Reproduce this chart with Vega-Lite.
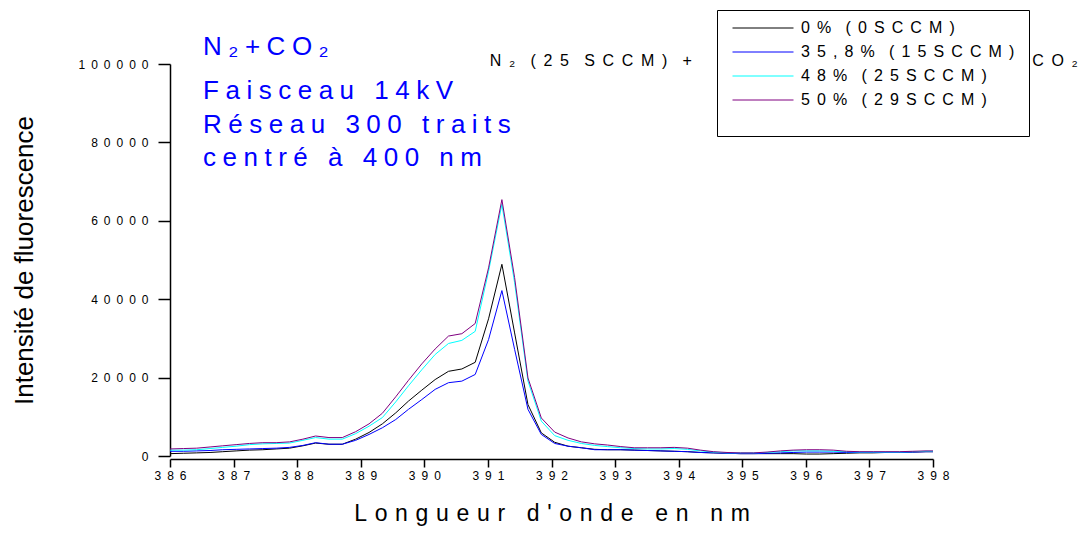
{
  "$schema": "https://vega.github.io/schema/vega-lite/v6.json",
  "autosize": {"type": "none"},
  "padding": {"left": 170, "top": 64, "right": 158, "bottom": 78},
  "width": 763,
  "height": 392,
  "background": "white",
  "config": {"view": {"stroke": null}, "font": "Liberation Sans"},
  "datasets": {
    "spectre": [
      {"nm":386.00,"s":"0% (0SCCM)","v":600},{"nm":386.21,"s":"0% (0SCCM)","v":700},{"nm":386.42,"s":"0% (0SCCM)","v":800},{"nm":386.63,"s":"0% (0SCCM)","v":900},{"nm":386.83,"s":"0% (0SCCM)","v":1100},{"nm":387.04,"s":"0% (0SCCM)","v":1300},{"nm":387.25,"s":"0% (0SCCM)","v":1500},{"nm":387.46,"s":"0% (0SCCM)","v":1600},{"nm":387.67,"s":"0% (0SCCM)","v":1800},{"nm":387.88,"s":"0% (0SCCM)","v":2000},{"nm":388.09,"s":"0% (0SCCM)","v":2600},{"nm":388.29,"s":"0% (0SCCM)","v":3300},{"nm":388.50,"s":"0% (0SCCM)","v":3000},{"nm":388.71,"s":"0% (0SCCM)","v":3000},{"nm":388.92,"s":"0% (0SCCM)","v":4300},{"nm":389.13,"s":"0% (0SCCM)","v":6000},{"nm":389.34,"s":"0% (0SCCM)","v":8200},{"nm":389.55,"s":"0% (0SCCM)","v":11000},{"nm":389.75,"s":"0% (0SCCM)","v":14000},{"nm":389.96,"s":"0% (0SCCM)","v":16800},{"nm":390.17,"s":"0% (0SCCM)","v":19500},{"nm":390.38,"s":"0% (0SCCM)","v":21600},{"nm":390.59,"s":"0% (0SCCM)","v":22200},{"nm":390.80,"s":"0% (0SCCM)","v":23900},{"nm":391.01,"s":"0% (0SCCM)","v":35000},{"nm":391.22,"s":"0% (0SCCM)","v":48900},{"nm":391.42,"s":"0% (0SCCM)","v":31400},{"nm":391.63,"s":"0% (0SCCM)","v":13100},{"nm":391.84,"s":"0% (0SCCM)","v":5900},{"nm":392.05,"s":"0% (0SCCM)","v":3500},{"nm":392.26,"s":"0% (0SCCM)","v":2500},{"nm":392.47,"s":"0% (0SCCM)","v":2100},{"nm":392.68,"s":"0% (0SCCM)","v":1700},{"nm":392.88,"s":"0% (0SCCM)","v":1600},{"nm":393.09,"s":"0% (0SCCM)","v":1600},{"nm":393.30,"s":"0% (0SCCM)","v":1500},{"nm":393.51,"s":"0% (0SCCM)","v":1400},{"nm":393.72,"s":"0% (0SCCM)","v":1300},{"nm":393.93,"s":"0% (0SCCM)","v":1200},{"nm":394.14,"s":"0% (0SCCM)","v":1100},{"nm":394.34,"s":"0% (0SCCM)","v":900},{"nm":394.55,"s":"0% (0SCCM)","v":800},{"nm":394.76,"s":"0% (0SCCM)","v":700},{"nm":394.97,"s":"0% (0SCCM)","v":600},{"nm":395.18,"s":"0% (0SCCM)","v":600},{"nm":395.39,"s":"0% (0SCCM)","v":600},{"nm":395.60,"s":"0% (0SCCM)","v":600},{"nm":395.80,"s":"0% (0SCCM)","v":600},{"nm":396.01,"s":"0% (0SCCM)","v":500},{"nm":396.22,"s":"0% (0SCCM)","v":500},{"nm":396.43,"s":"0% (0SCCM)","v":600},{"nm":396.64,"s":"0% (0SCCM)","v":700},{"nm":396.85,"s":"0% (0SCCM)","v":800},{"nm":397.06,"s":"0% (0SCCM)","v":800},{"nm":397.26,"s":"0% (0SCCM)","v":900},{"nm":397.47,"s":"0% (0SCCM)","v":900},{"nm":397.68,"s":"0% (0SCCM)","v":1000},{"nm":397.89,"s":"0% (0SCCM)","v":1100},{"nm":398.00,"s":"0% (0SCCM)","v":1100},
      {"nm":386.00,"s":"35,8% (15SCCM)","v":1200},{"nm":386.21,"s":"35,8% (15SCCM)","v":1200},{"nm":386.42,"s":"35,8% (15SCCM)","v":1300},{"nm":386.63,"s":"35,8% (15SCCM)","v":1400},{"nm":386.83,"s":"35,8% (15SCCM)","v":1600},{"nm":387.04,"s":"35,8% (15SCCM)","v":1700},{"nm":387.25,"s":"35,8% (15SCCM)","v":1800},{"nm":387.46,"s":"35,8% (15SCCM)","v":1900},{"nm":387.67,"s":"35,8% (15SCCM)","v":2000},{"nm":387.88,"s":"35,8% (15SCCM)","v":2200},{"nm":388.09,"s":"35,8% (15SCCM)","v":2700},{"nm":388.29,"s":"35,8% (15SCCM)","v":3400},{"nm":388.50,"s":"35,8% (15SCCM)","v":3000},{"nm":388.71,"s":"35,8% (15SCCM)","v":3000},{"nm":388.92,"s":"35,8% (15SCCM)","v":4000},{"nm":389.13,"s":"35,8% (15SCCM)","v":5500},{"nm":389.34,"s":"35,8% (15SCCM)","v":7200},{"nm":389.55,"s":"35,8% (15SCCM)","v":9300},{"nm":389.75,"s":"35,8% (15SCCM)","v":11900},{"nm":389.96,"s":"35,8% (15SCCM)","v":14400},{"nm":390.17,"s":"35,8% (15SCCM)","v":17000},{"nm":390.38,"s":"35,8% (15SCCM)","v":18700},{"nm":390.59,"s":"35,8% (15SCCM)","v":19100},{"nm":390.80,"s":"35,8% (15SCCM)","v":20800},{"nm":391.01,"s":"35,8% (15SCCM)","v":29700},{"nm":391.22,"s":"35,8% (15SCCM)","v":42200},{"nm":391.42,"s":"35,8% (15SCCM)","v":27200},{"nm":391.63,"s":"35,8% (15SCCM)","v":11900},{"nm":391.84,"s":"35,8% (15SCCM)","v":5500},{"nm":392.05,"s":"35,8% (15SCCM)","v":3200},{"nm":392.26,"s":"35,8% (15SCCM)","v":2500},{"nm":392.47,"s":"35,8% (15SCCM)","v":2100},{"nm":392.68,"s":"35,8% (15SCCM)","v":1600},{"nm":392.88,"s":"35,8% (15SCCM)","v":1600},{"nm":393.09,"s":"35,8% (15SCCM)","v":1600},{"nm":393.30,"s":"35,8% (15SCCM)","v":1500},{"nm":393.51,"s":"35,8% (15SCCM)","v":1400},{"nm":393.72,"s":"35,8% (15SCCM)","v":1300},{"nm":393.93,"s":"35,8% (15SCCM)","v":1200},{"nm":394.14,"s":"35,8% (15SCCM)","v":1100},{"nm":394.34,"s":"35,8% (15SCCM)","v":900},{"nm":394.55,"s":"35,8% (15SCCM)","v":800},{"nm":394.76,"s":"35,8% (15SCCM)","v":700},{"nm":394.97,"s":"35,8% (15SCCM)","v":600},{"nm":395.18,"s":"35,8% (15SCCM)","v":600},{"nm":395.39,"s":"35,8% (15SCCM)","v":700},{"nm":395.60,"s":"35,8% (15SCCM)","v":800},{"nm":395.80,"s":"35,8% (15SCCM)","v":900},{"nm":396.01,"s":"35,8% (15SCCM)","v":1000},{"nm":396.22,"s":"35,8% (15SCCM)","v":1000},{"nm":396.43,"s":"35,8% (15SCCM)","v":1000},{"nm":396.64,"s":"35,8% (15SCCM)","v":900},{"nm":396.85,"s":"35,8% (15SCCM)","v":900},{"nm":397.06,"s":"35,8% (15SCCM)","v":900},{"nm":397.26,"s":"35,8% (15SCCM)","v":900},{"nm":397.47,"s":"35,8% (15SCCM)","v":900},{"nm":397.68,"s":"35,8% (15SCCM)","v":1000},{"nm":397.89,"s":"35,8% (15SCCM)","v":1100},{"nm":398.00,"s":"35,8% (15SCCM)","v":1100},
      {"nm":386.00,"s":"48% (25SCCM)","v":1500},{"nm":386.21,"s":"48% (25SCCM)","v":1500},{"nm":386.42,"s":"48% (25SCCM)","v":1600},{"nm":386.63,"s":"48% (25SCCM)","v":1900},{"nm":386.83,"s":"48% (25SCCM)","v":2200},{"nm":387.04,"s":"48% (25SCCM)","v":2500},{"nm":387.25,"s":"48% (25SCCM)","v":2900},{"nm":387.46,"s":"48% (25SCCM)","v":3100},{"nm":387.67,"s":"48% (25SCCM)","v":3200},{"nm":387.88,"s":"48% (25SCCM)","v":3300},{"nm":388.09,"s":"48% (25SCCM)","v":4000},{"nm":388.29,"s":"48% (25SCCM)","v":4700},{"nm":388.50,"s":"48% (25SCCM)","v":4300},{"nm":388.71,"s":"48% (25SCCM)","v":4300},{"nm":388.92,"s":"48% (25SCCM)","v":5700},{"nm":389.13,"s":"48% (25SCCM)","v":7600},{"nm":389.34,"s":"48% (25SCCM)","v":9800},{"nm":389.55,"s":"48% (25SCCM)","v":13800},{"nm":389.75,"s":"48% (25SCCM)","v":17900},{"nm":389.96,"s":"48% (25SCCM)","v":22000},{"nm":390.17,"s":"48% (25SCCM)","v":25900},{"nm":390.38,"s":"48% (25SCCM)","v":28700},{"nm":390.59,"s":"48% (25SCCM)","v":29500},{"nm":390.80,"s":"48% (25SCCM)","v":31800},{"nm":391.01,"s":"48% (25SCCM)","v":47100},{"nm":391.22,"s":"48% (25SCCM)","v":64200},{"nm":391.42,"s":"48% (25SCCM)","v":44200},{"nm":391.63,"s":"48% (25SCCM)","v":19100},{"nm":391.84,"s":"48% (25SCCM)","v":8900},{"nm":392.05,"s":"48% (25SCCM)","v":5200},{"nm":392.26,"s":"48% (25SCCM)","v":4000},{"nm":392.47,"s":"48% (25SCCM)","v":3200},{"nm":392.68,"s":"48% (25SCCM)","v":2700},{"nm":392.88,"s":"48% (25SCCM)","v":2400},{"nm":393.09,"s":"48% (25SCCM)","v":2100},{"nm":393.30,"s":"48% (25SCCM)","v":1900},{"nm":393.51,"s":"48% (25SCCM)","v":1800},{"nm":393.72,"s":"48% (25SCCM)","v":1800},{"nm":393.93,"s":"48% (25SCCM)","v":1900},{"nm":394.14,"s":"48% (25SCCM)","v":1700},{"nm":394.34,"s":"48% (25SCCM)","v":1300},{"nm":394.55,"s":"48% (25SCCM)","v":1000},{"nm":394.76,"s":"48% (25SCCM)","v":800},{"nm":394.97,"s":"48% (25SCCM)","v":800},{"nm":395.18,"s":"48% (25SCCM)","v":800},{"nm":395.39,"s":"48% (25SCCM)","v":900},{"nm":395.60,"s":"48% (25SCCM)","v":1100},{"nm":395.80,"s":"48% (25SCCM)","v":1300},{"nm":396.01,"s":"48% (25SCCM)","v":1300},{"nm":396.22,"s":"48% (25SCCM)","v":1300},{"nm":396.43,"s":"48% (25SCCM)","v":1200},{"nm":396.64,"s":"48% (25SCCM)","v":1100},{"nm":396.85,"s":"48% (25SCCM)","v":1000},{"nm":397.06,"s":"48% (25SCCM)","v":1000},{"nm":397.26,"s":"48% (25SCCM)","v":1000},{"nm":397.47,"s":"48% (25SCCM)","v":1000},{"nm":397.68,"s":"48% (25SCCM)","v":1100},{"nm":397.89,"s":"48% (25SCCM)","v":1200},{"nm":398.00,"s":"48% (25SCCM)","v":1200},
      {"nm":386.00,"s":"50% (29SCCM)","v":1800},{"nm":386.21,"s":"50% (29SCCM)","v":1900},{"nm":386.42,"s":"50% (29SCCM)","v":2000},{"nm":386.63,"s":"50% (29SCCM)","v":2300},{"nm":386.83,"s":"50% (29SCCM)","v":2600},{"nm":387.04,"s":"50% (29SCCM)","v":2900},{"nm":387.25,"s":"50% (29SCCM)","v":3200},{"nm":387.46,"s":"50% (29SCCM)","v":3400},{"nm":387.67,"s":"50% (29SCCM)","v":3400},{"nm":387.88,"s":"50% (29SCCM)","v":3600},{"nm":388.09,"s":"50% (29SCCM)","v":4300},{"nm":388.29,"s":"50% (29SCCM)","v":5100},{"nm":388.50,"s":"50% (29SCCM)","v":4700},{"nm":388.71,"s":"50% (29SCCM)","v":4700},{"nm":388.92,"s":"50% (29SCCM)","v":6200},{"nm":389.13,"s":"50% (29SCCM)","v":8200},{"nm":389.34,"s":"50% (29SCCM)","v":10900},{"nm":389.55,"s":"50% (29SCCM)","v":15100},{"nm":389.75,"s":"50% (29SCCM)","v":19300},{"nm":389.96,"s":"50% (29SCCM)","v":23500},{"nm":390.17,"s":"50% (29SCCM)","v":27300},{"nm":390.38,"s":"50% (29SCCM)","v":30600},{"nm":390.59,"s":"50% (29SCCM)","v":31200},{"nm":390.80,"s":"50% (29SCCM)","v":33800},{"nm":391.01,"s":"50% (29SCCM)","v":48000},{"nm":391.22,"s":"50% (29SCCM)","v":65400},{"nm":391.42,"s":"50% (29SCCM)","v":45500},{"nm":391.63,"s":"50% (29SCCM)","v":19900},{"nm":391.84,"s":"50% (29SCCM)","v":9700},{"nm":392.05,"s":"50% (29SCCM)","v":6100},{"nm":392.26,"s":"50% (29SCCM)","v":4600},{"nm":392.47,"s":"50% (29SCCM)","v":3600},{"nm":392.68,"s":"50% (29SCCM)","v":3100},{"nm":392.88,"s":"50% (29SCCM)","v":2800},{"nm":393.09,"s":"50% (29SCCM)","v":2400},{"nm":393.30,"s":"50% (29SCCM)","v":2100},{"nm":393.51,"s":"50% (29SCCM)","v":2100},{"nm":393.72,"s":"50% (29SCCM)","v":2100},{"nm":393.93,"s":"50% (29SCCM)","v":2200},{"nm":394.14,"s":"50% (29SCCM)","v":2000},{"nm":394.34,"s":"50% (29SCCM)","v":1500},{"nm":394.55,"s":"50% (29SCCM)","v":1100},{"nm":394.76,"s":"50% (29SCCM)","v":900},{"nm":394.97,"s":"50% (29SCCM)","v":800},{"nm":395.18,"s":"50% (29SCCM)","v":800},{"nm":395.39,"s":"50% (29SCCM)","v":1000},{"nm":395.60,"s":"50% (29SCCM)","v":1300},{"nm":395.80,"s":"50% (29SCCM)","v":1500},{"nm":396.01,"s":"50% (29SCCM)","v":1600},{"nm":396.22,"s":"50% (29SCCM)","v":1600},{"nm":396.43,"s":"50% (29SCCM)","v":1500},{"nm":396.64,"s":"50% (29SCCM)","v":1200},{"nm":396.85,"s":"50% (29SCCM)","v":1100},{"nm":397.06,"s":"50% (29SCCM)","v":1100},{"nm":397.26,"s":"50% (29SCCM)","v":1100},{"nm":397.47,"s":"50% (29SCCM)","v":1100},{"nm":397.68,"s":"50% (29SCCM)","v":1200},{"nm":397.89,"s":"50% (29SCCM)","v":1300},{"nm":398.00,"s":"50% (29SCCM)","v":1300}
    ],
    "notesBleu": [
      {"t": "N₂+CO₂", "nm": 386.52, "v": 102200},
      {"t": "Faisceau 14kV", "nm": 386.52, "v": 91100},
      {"t": "Réseau 300 traits", "nm": 386.52, "v": 82400},
      {"t": "centré à 400 nm", "nm": 386.52, "v": 73900}
    ],
    "notesNoir": [
      {"t": "N₂ (25 SCCM) +", "nm": 391.03, "v": 99400},
      {"t": "CO₂", "nm": 399.56, "v": 99400}
    ]
  },
  "layer": [
    {
      "data": {"name": "spectre"},
      "mark": {"type": "line", "strokeWidth": 1, "clip": false},
      "encoding": {
        "x": {
          "field": "nm", "type": "quantitative",
          "scale": {"domain": [386, 398], "nice": false, "zero": false},
          "axis": {
            "values": [386,386.5,387,387.5,388,388.5,389,389.5,390,390.5,391,391.5,392,392.5,393,393.5,394,394.5,395,395.5,396,396.5,397,397.5,398],
            "labelExpr": "datum.value % 1 === 0 ? join(split(format(datum.value,'d'),''),'\u2002') : ''",
            "tickSize": {"condition": {"test": "datum.value % 1 === 0", "value": 8}, "value": 4},
            "tickWidth": 1.5, "tickColor": "black",
            "domainWidth": 1.5, "domainColor": "black",
            "offset": 3, "grid": false,
            "labelFont": "Liberation Sans", "labelFontSize": 12, "labelColor": "black",
            "labelPadding": 3, "labelFlush": false, "labelOverlap": false,
            "title": "L\u2004o\u2004n\u2004g\u2004u\u2004e\u2004u\u2004r\u2004 \u2004d\u2004'\u2004o\u2004n\u2004d\u2004e\u2004 \u2004e\u2004n\u2004 \u2004n\u2004m",
            "titleFont": "Liberation Sans", "titleFontSize": 23, "titleFontWeight": "normal",
            "titleColor": "black", "titlePadding": 21
          }
        },
        "y": {
          "field": "v", "type": "quantitative",
          "scale": {"domain": [0, 100000], "nice": false},
          "axis": {
            "values": [0,10000,20000,30000,40000,50000,60000,70000,80000,90000,100000],
            "labelExpr": "datum.value % 20000 === 0 ? join(split(format(datum.value,'d'),''),'\u2002') : ''",
            "tickSize": {"condition": {"test": "datum.value % 20000 === 0", "value": 12}, "value": 6},
            "tickWidth": 1.5, "tickColor": "black",
            "domainWidth": 1.5, "domainColor": "black",
            "grid": false,
            "labelFont": "Liberation Sans", "labelFontSize": 12, "labelColor": "black",
            "labelPadding": 10, "labelOverlap": false,
            "title": "Intensité de fluorescence",
            "titleFont": "Liberation Sans", "titleFontSize": 26, "titleFontWeight": "normal",
            "titleColor": "black", "titlePadding": 40
          }
        },
        "color": {
          "field": "s", "type": "nominal",
          "scale": {
            "domain": ["0% (0SCCM)", "35,8% (15SCCM)", "48% (25SCCM)", "50% (29SCCM)"],
            "range": ["#000000", "#0000ff", "#00ffff", "#800080"]
          },
          "legend": {
            "orient": "none", "legendX": 547, "legendY": -54,
            "title": "\u00a0", "titleOrient": "bottom", "titleFontSize": 12, "titlePadding": 7,
            "strokeColor": "black", "fillColor": "white", "padding": 10,
            "symbolType": "stroke", "symbolSize": 3721, "symbolStrokeWidth": 1, "symbolOffset": 5,
            "clipHeight": 16, "rowPadding": 8, "labelOffset": 7,
            "labelFont": "Liberation Sans", "labelFontSize": 16, "labelColor": "black", "labelLimit": 400,
            "labelExpr": "join(split(datum.label,''),' \u2006')"
          }
        }
      }
    },
    {
      "data": {"name": "notesBleu"},
      "transform": [{"calculate": "join(split(datum.t,''),'\u2005')", "as": "aff"}],
      "mark": {"type": "text", "align": "left", "baseline": "alphabetic", "font": "Liberation Sans", "fontSize": 26, "color": "#0000ff"},
      "encoding": {
        "x": {"field": "nm", "type": "quantitative"},
        "y": {"field": "v", "type": "quantitative"},
        "text": {"field": "aff"}
      }
    },
    {
      "data": {"name": "notesNoir"},
      "transform": [{"calculate": "join(split(datum.t,''),' \u2009')", "as": "aff"}],
      "mark": {"type": "text", "align": "left", "baseline": "alphabetic", "font": "Liberation Sans", "fontSize": 16, "color": "black"},
      "encoding": {
        "x": {"field": "nm", "type": "quantitative"},
        "y": {"field": "v", "type": "quantitative"},
        "text": {"field": "aff"}
      }
    }
  ]
}
